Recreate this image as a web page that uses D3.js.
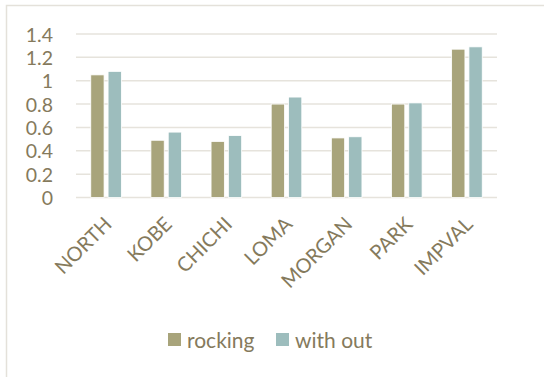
<!DOCTYPE html>
<html>
<head>
<meta charset="utf-8">
<script src="https://cdn.jsdelivr.net/npm/d3@7/dist/d3.min.js"></script>
<style>
  html, body { margin: 0; padding: 0; background: #fff; }
  svg { display: block; }
  text { font-family: Lato, "Open Sans", sans-serif; fill: #857a5c; }
</style>
</head>
<body>
<svg id="chart" width="544" height="377"></svg>
<script>
// Values per earthquake record, with and without rocking
const categories = ["NORTH", "KOBE", "CHICHI", "LOMA", "MORGAN", "PARK", "IMPVAL"];
const seriesNames = ["rocking", "with out"];
const rocking = [1.05, 0.49, 0.48, 0.80, 0.51, 0.80, 1.27];
const withOut = [1.08, 0.56, 0.53, 0.86, 0.52, 0.81, 1.29];
const yTicks = [0, 0.2, 0.4, 0.6, 0.8, 1, 1.2, 1.4];
const colors = ["#a8a47b", "#9dbdbd"];

const svg = d3.select("#chart");

// outer frame of the chart area
svg.append("rect")
  .attr("x", 6.5).attr("y", 5.5)
  .attr("width", 560).attr("height", 400)
  .attr("fill", "none").attr("stroke", "#e4e1da").attr("stroke-width", 1.5);

const plotLeft = 76, plotRight = 497, plotTop = 34, plotBottom = 197.5;

const x = d3.scaleBand().domain(categories).range([plotLeft, plotRight]).paddingInner(0).paddingOuter(0);
const y = d3.scaleLinear().domain([0, 1.4]).range([plotBottom, plotTop]);

// horizontal gridlines
svg.append("g").selectAll("line").data(yTicks).join("line")
  .attr("x1", plotLeft).attr("x2", plotRight)
  .attr("y1", d => y(d)).attr("y2", d => y(d))
  .attr("stroke", "#e6e3dc").attr("stroke-width", 1.5);

// y axis labels
const yAxis = d3.axisLeft(y).tickValues(yTicks).tickSize(0).tickPadding(0)
  .tickFormat(d => d3.format("")(+d.toFixed(1)));
const gy = svg.append("g").attr("transform", `translate(${plotLeft - 23},0)`).call(yAxis);
gy.select(".domain").remove();
gy.selectAll("text").style("font-family", "Lato, sans-serif").style("font-size", "19.5px")
  .attr("fill", "#857a5c").attr("dy", "0.36em");

// grouped bars
const barW = 13.3, gap = 4;
const data = categories.map((c, i) => ({ c, vals: [rocking[i], withOut[i]] }));
const groups = svg.append("g").selectAll("g").data(data).join("g")
  .attr("transform", d => `translate(${x(d.c) + x.bandwidth() / 2},0)`);
groups.selectAll("rect").data(d => d.vals).join("rect")
  .attr("x", (d, j) => j === 0 ? -(barW + gap / 2) : gap / 2)
  .attr("width", barW)
  .attr("y", d => y(d))
  .attr("height", d => y(0) - y(d))
  .attr("fill", (d, j) => colors[j])
  .attr("stroke", "#ffffff").attr("stroke-width", 0.8);

// rotated category labels
const xAxis = d3.axisBottom(x).tickSize(0).tickPadding(0);
const gx = svg.append("g").attr("transform", `translate(0,${plotBottom})`).call(xAxis);
gx.select(".domain").remove();
gx.selectAll("text")
  .style("font-family", "Lato, sans-serif").style("font-size", "20px")
  .attr("fill", "#857a5c")
  .attr("text-anchor", "end")
  .attr("dy", null).attr("y", 0)
  .attr("transform", "translate(7,28) rotate(-45)");

// legend
const legend = svg.append("g").attr("transform", "translate(168,333)");
const items = legend.selectAll("g").data(seriesNames).join("g")
  .attr("transform", (d, i) => `translate(${i * 108},0)`);
items.append("rect").attr("width", 13).attr("height", 13).attr("fill", (d, i) => colors[i]);
items.append("text").attr("x", 19).attr("y", 14.5)
  .style("font-size", "21px").text(d => d);
</script>
</body>
</html>
